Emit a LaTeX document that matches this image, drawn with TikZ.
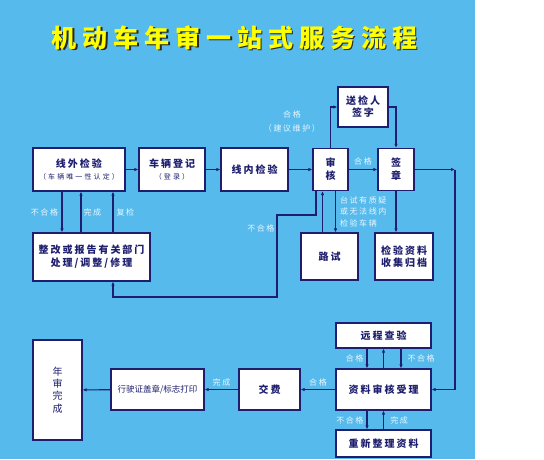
\documentclass[tikz,border=0pt]{standalone}
\usepackage{fontspec}
\usepackage{tikz}
\usetikzlibrary{arrows.meta, positioning}
\newfontfamily\cjk{Noto Sans CJK SC}
\newcommand{\subnote}[1]{{\cjk\mdseries\fontsize{7}{9}\selectfont\addfontfeature{LetterSpace=30}#1}}
\definecolor{skyblue}{RGB}{86, 187, 236}
\definecolor{navy}{RGB}{30, 30, 110}
\definecolor{lblwhite}{RGB}{234, 245, 255}
\definecolor{titleyellow}{RGB}{255, 255, 0}
\definecolor{titleshadow}{RGB}{40, 40, 30}

\begin{document}
\begin{tikzpicture}[x=1pt, y=-1pt,
    box/.style={
      rectangle, draw=navy, line width=1.2pt, fill=white, text=navy,
      align=center, inner sep=0pt,
      font=\cjk\bfseries\fontsize{10}{13}\selectfont\addfontfeature{LetterSpace=20}
    },
    lbl/.style={
      text=lblwhite, inner sep=2pt, align=center,
      font=\cjk\fontsize{8}{11.5}\selectfont\addfontfeature{LetterSpace=20}
    },
    title/.style={
      font=\cjk\bfseries\fontsize{25}{30}\selectfont\addfontfeature{LetterSpace=24}
    },
    arr/.style={-{Latex[length=4pt, width=3.5pt]}, line width=1.1pt, color=navy},
    thickarr/.style={arr, line width=1.8pt}
]
  % canvas
  \useasboundingbox (0,0) rectangle (544,459);
  \fill[skyblue] (0,0) rectangle (475,459);

  % title
  \node[title, text=titleshadow] (ttlshadow) at (236,39) {机动车年审一站式服务流程};
  \node[title, text=titleyellow] (ttl) at (234.5,37.5) {机动车年审一站式服务流程};

  % upper row
  \node[box, minimum width=92pt, minimum height=43pt] (oc) at (79,169.5)
       {线外检验\\[-1pt]\subnote{（车辆唯一性认定）}};
  \node[box, minimum width=66pt, minimum height=43pt] (reg) at (172,169.5)
       {车辆登记\\[-1pt]\subnote{（登录）}};
  \node[box, minimum width=67pt, minimum height=43pt] (ic) at (254.5,169.5) {线内检验};
  \node[box, minimum width=35pt, minimum height=42pt] (aud) at (330.5,169.5) {审\\核};
  \node[box, minimum width=50pt, minimum height=40pt] (sign) at (363,107) {送检人\\[-1pt]签字};
  \node[box, minimum width=36pt, minimum height=42pt] (stamp) at (396,169.5) {签\\章};

  % middle row
  \node[box, minimum width=117pt, minimum height=48pt] (fix) at (91.5,257)
       {整改或报告有关部门\\处理/调整/修理};
  \node[box, minimum width=57pt, minimum height=47pt] (road) at (329.5,256.5) {路试};
  \node[box, minimum width=58pt, minimum height=47pt] (arch) at (404,256.5) {检验资料\\[-1.5pt]收集归档};

  % lower part
  \node[box, minimum width=95pt, minimum height=25pt] (remote) at (383.5,335.5) {远程查验};
  \node[box, minimum width=95pt, minimum height=41pt] (accept) at (383.5,389.5) {资料审核受理};
  \node[box, minimum width=95pt, minimum height=27pt] (redo) at (383.5,443.5) {重新整理资料};
  \node[box, minimum width=61pt, minimum height=41pt] (pay) at (269.5,389.5) {交费};
  \node[box, minimum width=93pt, minimum height=41pt,
        font=\cjk\fontsize{8.5}{10}\selectfont] (print) at (157.5,389.5) {行驶证盖章/标志打印};
  \node[box, minimum width=49pt, minimum height=100pt,
        font=\cjk\fontsize{10}{12.3}\selectfont] (done) at (57.5,390) {年\\审\\完\\成};

  \coordinate (ne) at (455,169.5);
  \coordinate (nq1) at (277,215);
  \coordinate (nq2) at (277,297);

  % upper flow
  \draw[arr] (oc) -- (reg);
  \draw[arr] (reg) -- (ic);
  \draw[arr] (ic) -- (aud);
  \draw[arr] (aud) -- node[lbl, above=2pt]{合格} (stamp);
  \draw[arr] (aud.north) |- node[lbl, left=8pt, pos=0.32]{合格\\[2pt]（建议维护）} (sign.west);
  \draw[arr] (sign.east) -| (stamp.north);
  \draw[arr] (stamp) -- (ne);
  \draw[arr] (ne) |- (accept.east);
  \draw[arr] (stamp.south) -- (stamp.south |- arch.north);

  % road test
  \draw[arr] ([xshift=-7pt]road.north) -- ([xshift=-7pt]road.north |- aud.south);
  \draw[arr] ([xshift=6pt]road.north |- aud.south) --
        node[lbl, right=2pt, align=left]{台试有质疑\\或无法线内\\检验车辆} ([xshift=6pt]road.north);
  \draw[arr] ([xshift=-14.5pt]aud.south) |- (nq1) --
        node[lbl, left, pos=0.16]{不合格} (nq2) -| ([xshift=21.5pt]fix.south);

  % rework loop
  \draw[thickarr] ([xshift=-17pt]oc.south) -- node[lbl, left=1pt]{不合格} ([xshift=-17pt]oc.south |- fix.north);
  \draw[arr] ([xshift=-10.5pt]fix.north) -- node[lbl, right=0pt]{完成} ([xshift=-10.5pt]fix.north |- oc.south);
  \draw[arr] ([xshift=21.5pt]fix.north) -- node[lbl, right=1pt]{复检} ([xshift=21.5pt]fix.north |- oc.south);

  % acceptance
  \draw[arr] ([xshift=-16.5pt]remote.south) -- node[lbl, left=1pt]{合格} ([xshift=-16.5pt]remote.south |- accept.north);
  \draw[thickarr] (accept.north) -- (remote.south);
  \draw[arr] ([xshift=17.5pt]remote.south) -- node[lbl, right=4pt]{不合格} ([xshift=17.5pt]remote.south |- accept.north);
  \draw[arr] ([xshift=-16.5pt]accept.south) -- node[lbl, left=1pt]{不合格} ([xshift=-16.5pt]accept.south |- redo.north);
  \draw[thickarr] (redo.north) -- node[lbl, right=4pt]{完成} (accept.south);
  \draw[arr] (accept) -- node[lbl, above=1pt]{合格} (pay);
  \draw[arr] (pay) -- node[lbl, above=1pt]{完成} (print);
  \draw[arr] (print) -- (done);
\end{tikzpicture}
\end{document}
